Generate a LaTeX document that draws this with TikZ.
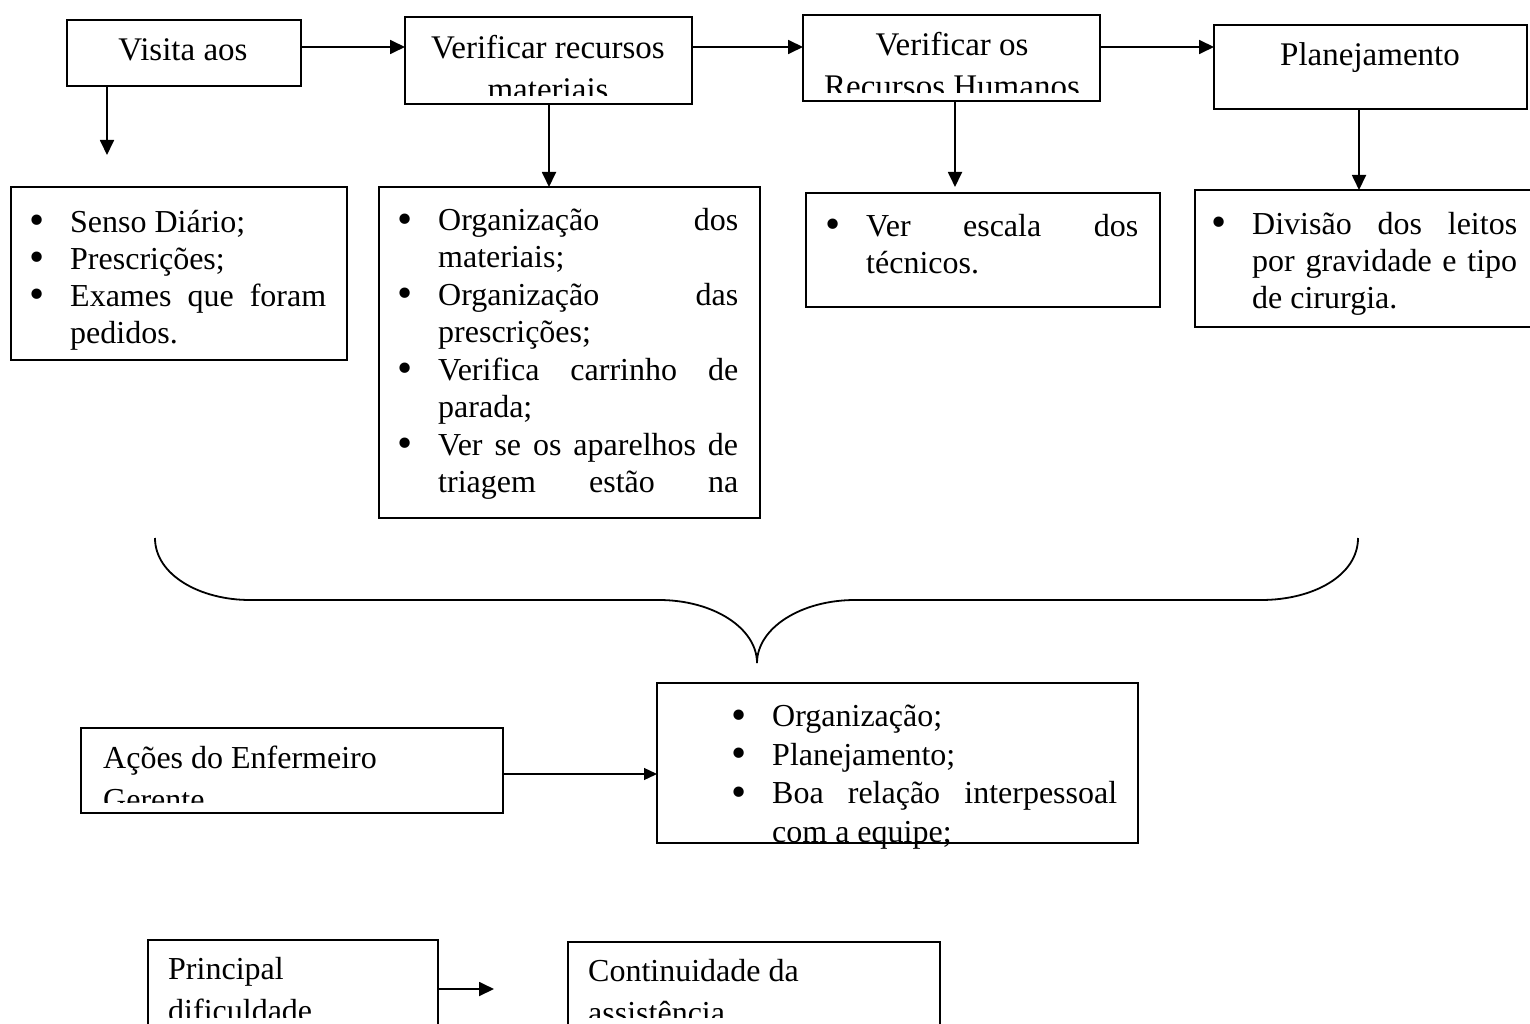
\documentclass[tikz,border=0pt]{standalone}
\usepackage{fontspec}
\setmainfont{Liberation Serif}
\usetikzlibrary{arrows.meta}

% a slightly larger round bullet
\newcommand\dotmark{\raisebox{-2.6pt}{\scalebox{1.35}{\textbullet}}}

% bulleted list used inside the detail boxes
\newenvironment{bulletlist}{%
  \begin{list}{\dotmark}{%
    \setlength\leftmargin{33pt}\setlength\labelwidth{20pt}%
    \setlength\labelsep{25.5pt}\setlength\itemsep{0pt}%
    \setlength\parsep{0pt}\setlength\topsep{0pt}%
    \setlength\partopsep{0pt}\setlength\itemindent{0pt}%
    \setlength\listparindent{0pt}}}%
  {\end{list}}
\newcommand\listsetup{\hyphenpenalty=10000 \exhyphenpenalty=10000 \tolerance=10000 \parskip=0pt}

\tikzset{
  frame/.style={draw, rectangle, line width=1.8pt, inner sep=0pt, outer sep=0pt},
  arr/.style={line width=1.8pt, -{Triangle[length=15pt,width=14pt]}},
  thinarr/.style={line width=1.3pt, -{Triangle[length=13pt,width=12pt]}},
  title/.style={inner sep=0pt, font=\fontsize{32}{42}\selectfont},
  toptitle/.style={inner sep=0pt, font=\fontsize{33}{42}\selectfont},
  listtext/.style={inner sep=0pt, anchor=north west, align=justify,
    font=\fontsize{32}{37}\selectfont},
  listlong/.style={inner sep=0pt, anchor=north west, align=justify,
    font=\fontsize{32}{37.4}\selectfont},
  listwide/.style={inner sep=0pt, anchor=north west, align=justify,
    font=\fontsize{32}{38.5}\selectfont},
  brace/.style={line width=1.8pt}
}

\begin{document}
\begin{tikzpicture}[x=1pt,y=-1pt]
\fill[white] (0,0) rectangle (1530,1024);
\useasboundingbox (0,0) rectangle (1530,1024);

% ---- top row of steps
\node[frame, minimum width=234pt, minimum height=66pt] (b1) at (184,53) {};
\node[frame, minimum width=287pt, minimum height=87pt] (b2) at (548.5,60.5) {};
\node[frame, minimum width=297pt, minimum height=86pt] (b3) at (951.5,58) {};
\node[frame, minimum width=313pt, minimum height=84pt] (b4) at (1370.5,67) {};

\node[toptitle] (t1) at (183,52) {\begin{tabular}{@{}c@{}}Visita aos\end{tabular}};
\begin{scope}
  \clip (405,17) rectangle (692,96);
  \node[toptitle] (t2) at (548,71) {\begin{tabular}{@{}c@{}}Verificar recursos\\materiais\end{tabular}};
\end{scope}
\begin{scope}
  \clip (803,15) rectangle (1100,93);
  \node[toptitle] (t3) at (952,68) {\begin{tabular}{@{}c@{}}Verificar os\\Recursos Humanos\end{tabular}};
\end{scope}
\node[toptitle] (t4) at (1370,57) {\begin{tabular}{@{}c@{}}Planejamento\end{tabular}};

% ---- detail boxes
\node[frame, minimum width=336pt, minimum height=173pt] (b5) at (179,273.5) {};
\node[frame, minimum width=381pt, minimum height=331pt] (b6) at (569.5,352.5) {};
\node[frame, minimum width=354pt, minimum height=114pt] (b7) at (983,250) {};
\node[frame, minimum width=350pt, minimum height=137pt] (b8) at (1370,258.5) {};

\node[listtext, text width=289pt] (l5) at (37,195) {\listsetup
  \begin{bulletlist}
  \item\strut Senso Diário;
  \item Prescrições;
  \item Exames que foram\linebreak pedidos.
  \end{bulletlist}};
\node[listlong, text width=333pt] (l6) at (405,193) {\listsetup
  \begin{bulletlist}
  \item\strut Organização dos\linebreak materiais;
  \item Organização das\linebreak prescrições;
  \item Verifica carrinho de\linebreak parada;
  \item Ver se os aparelhos de\linebreak triagem estão na\linebreak
  \end{bulletlist}};
\node[listtext, text width=305pt] (l7) at (833,199) {\listsetup
  \begin{bulletlist}
  \item\strut Ver escala dos\linebreak técnicos.
  \end{bulletlist}};
\node[listtext, text width=298pt] (l8) at (1219,197) {\listsetup
  \begin{bulletlist}
  \item\strut Divisão dos leitos\linebreak por gravidade e tipo\linebreak de cirurgia.
  \end{bulletlist}};

% ---- connectors of the top part
\coordinate (d1) at (107,155);
\draw[arr] (b1.east |- 0,47) -- (b2.west |- 0,47);
\draw[arr] (b2.east |- 0,47) -- (b3.west |- 0,47);
\draw[arr] (b3.east |- 0,47) -- (b4.west |- 0,47);
\draw[arr] (b1.south -| d1) -- (d1);
\draw[arr] (b2.south -| 549,0) -- (b6.north -| 549,0);
\draw[arr, shorten >=6pt] (b3.south -| 955,0) -- (b7.north -| 955,0);
\draw[arr] (b4.south -| 1359,0) -- (b8.north -| 1359,0);

% ---- brace gathering the steps
\draw[brace] (155,538) .. controls (155,575) and (200,600) .. (250,600)
  -- (659,600) .. controls (713,600) and (757,628) .. (757,663);
\draw[brace] (757,663) .. controls (757,628) and (801,600) .. (855,600)
  -- (1261,600) .. controls (1314,600) and (1358,575) .. (1358,538);

% ---- nurse manager actions
\node[frame, minimum width=422pt, minimum height=85pt] (b9) at (292,770.5) {};
\node[frame, minimum width=481pt, minimum height=160pt] (b10) at (897.5,763) {};
\begin{scope}
  \clip (81,728) rectangle (503,802);
  \node[title, anchor=west] (t9) at (103,781) {\begin{tabular}{@{}l@{}}Ações do Enfermeiro\\Gerente\end{tabular}};
\end{scope}
\node[listwide, text width=378pt] (l10) at (739,688) {\listsetup
  \begin{bulletlist}
  \item\strut Organização;
  \item Planejamento;
  \item Boa relação interpessoal\linebreak com a equipe;
  \end{bulletlist}};
\draw[thinarr] (b9.east |- 0,774) -- (b10.west |- 0,774);

% ---- main difficulty
\node[frame, minimum width=290pt, minimum height=120pt] (b11) at (293,1000) {};
\node[frame, minimum width=372pt, minimum height=118pt] (b12) at (754,1001) {};
\begin{scope}
  \clip (148,940) rectangle (438,1017);
  \node[title, anchor=west] (t11) at (168,992) {\begin{tabular}{@{}l@{}}Principal\\dificuldade\end{tabular}};
\end{scope}
\begin{scope}
  \clip (568,942) rectangle (940,1017);
  \node[title, anchor=west] (t12) at (588,994) {\begin{tabular}{@{}l@{}}Continuidade da\\assistência\end{tabular}};
\end{scope}
\coordinate (d11) at (494,989);
\draw[arr] (b11.east |- d11) -- (d11);
\end{tikzpicture}
\end{document}
